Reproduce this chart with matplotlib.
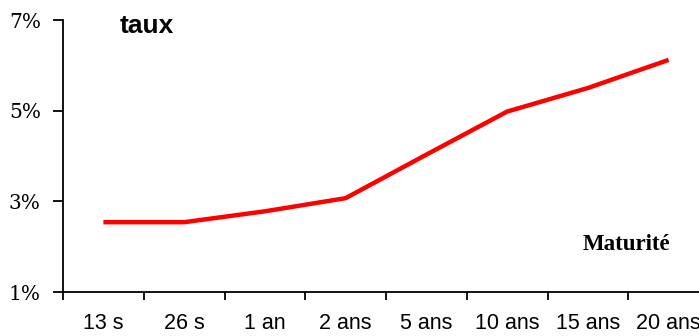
import matplotlib.pyplot as plt
import numpy as np

maturites = ['13 s', '26 s', '1 an', '2 ans', '5 ans', '10 ans', '15 ans', '20 ans']
taux = [2.54, 2.54, 2.78, 3.07, 4.03, 4.98, 5.50, 6.12]
yticks = [1, 3, 5, 7]

fig = plt.figure(figsize=(6.99, 3.36), dpi=100)
ax = fig.add_axes([63/699, 1-292/336, 646/699, 272/336])

x = np.arange(len(maturites))
ax.plot(x, taux, color='#ff0000', lw=3.2, solid_capstyle='butt')

ax.set_xlim(-0.5, len(maturites) - 0.5)
ax.set_ylim(1, 7)

# ticks between categories, labels centred on them
ax.set_xticks(np.arange(-0.5, len(maturites), 1))
ax.set_xticklabels([])
ax.set_xticks(x, minor=True)
ax.set_xticklabels(maturites, minor=True, family='Liberation Sans', fontsize=15.5)
ax.tick_params(axis='x', which='major', length=6, width=1.3, direction='out')
ax.tick_params(axis='x', which='minor', length=0, pad=15)

ax.set_yticks(yticks)
ax.set_yticklabels([f'{v}%' for v in yticks], family='DejaVu Serif', fontsize=14.5)
ax.tick_params(axis='y', length=7, width=1.3, pad=9)

for s in ['top', 'right']:
    ax.spines[s].set_visible(False)
for s in ['left', 'bottom']:
    ax.spines[s].set_linewidth(1.3)

ax.text(120/699, 1-26/336, 'taux', transform=fig.transFigure, family='Liberation Sans',
        fontsize=19, fontweight='bold', va='center')
ax.text(626/699, 1-244/336, 'Maturité', transform=fig.transFigure, family='Liberation Serif',
        fontsize=16.5, fontweight='bold', va='center', ha='center')

fig.savefig('out.png', dpi=100)
